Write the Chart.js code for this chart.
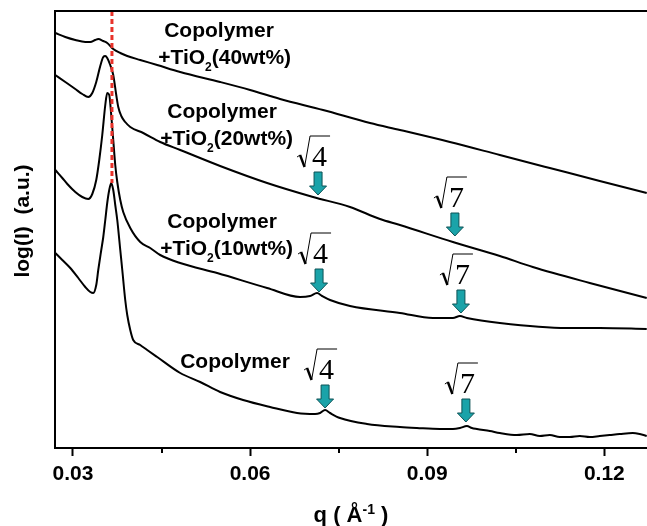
<!DOCTYPE html>
<html>
<head>
<meta charset="utf-8">
<script src="https://cdn.jsdelivr.net/npm/chart.js@4.4.0/dist/chart.umd.min.js"></script>
<style>
  html, body { margin: 0; padding: 0; background: #fff; }
  #marco { width: 647px; height: 526px; position: relative; }
</style>
</head>
<body>
<div id="marco"><canvas id="graficoSaxs"></canvas></div>
<script>
// q en 1/Å, intensidad en unidades arbitrarias (curvas desplazadas)
const q40 = [0.02700, 0.02870, 0.03039, 0.03208, 0.03293, 0.03377, 0.03428, 0.03513, 0.03580, 0.03682, 0.03801, 0.03919, 0.04139, 0.04426, 0.04816, 0.05492, 0.06000, 0.06508, 0.07236, 0.08031, 0.08538, 0.09384, 0.10230, 0.11076, 0.11922, 0.12718];
const i40 = [415, 411, 408, 406, 406, 408, 409, 407, 405, 399, 395, 392, 388, 383, 376, 366, 358, 349, 338, 325, 318, 306, 293, 280, 267, 255];

const q20 = [0.02700, 0.02870, 0.03039, 0.03157, 0.03259, 0.03327, 0.03394, 0.03462, 0.03513, 0.03547, 0.03580, 0.03631, 0.03682, 0.03733, 0.03767, 0.03818, 0.03885, 0.03970, 0.04190, 0.04477, 0.04816, 0.05492, 0.06288, 0.07066, 0.07692, 0.08200, 0.08538, 0.09435, 0.10230, 0.10788, 0.11753, 0.12718];
const i20 = [373, 366, 359, 354, 351, 355, 366, 382, 391, 392, 390, 383, 373, 353, 341, 332, 326, 321, 315, 306, 298, 282, 265, 251, 241, 229, 223, 206, 192, 181, 165, 150];

const q10 = [0.02700, 0.02819, 0.02904, 0.03039, 0.03157, 0.03259, 0.03327, 0.03394, 0.03445, 0.03496, 0.03547, 0.03580, 0.03614, 0.03648, 0.03682, 0.03716, 0.03750, 0.03801, 0.03851, 0.03970, 0.04139, 0.04308, 0.04477, 0.04816, 0.05442, 0.06288, 0.06846, 0.07015, 0.07134, 0.07219, 0.07354, 0.07692, 0.08538, 0.09097, 0.09435, 0.09554, 0.09672, 0.10230, 0.11364, 0.11922, 0.12718];
const i10 = [278, 270, 264, 256, 251, 249, 254, 268, 288, 313, 343, 355, 353, 333, 308, 283, 266, 248, 236, 220, 206, 200, 193, 185, 175, 160, 151, 152, 155, 152, 148, 142, 135, 130, 130, 132, 130, 125, 120, 120, 119];

const qCop = [0.02700, 0.02819, 0.02954, 0.03090, 0.03208, 0.03293, 0.03343, 0.03394, 0.03428, 0.03479, 0.03513, 0.03547, 0.03580, 0.03614, 0.03648, 0.03682, 0.03716, 0.03750, 0.03801, 0.03835, 0.03885, 0.03919, 0.03970, 0.04020, 0.04139, 0.04257, 0.04426, 0.04816, 0.05154, 0.05492, 0.05882, 0.06338, 0.06795, 0.07100, 0.07185, 0.07270, 0.07354, 0.07523, 0.07980, 0.08538, 0.08826, 0.09215, 0.09435, 0.09554, 0.09672, 0.09756, 0.09841, 0.10061, 0.10230, 0.10517, 0.10738, 0.10907, 0.11076, 0.11245, 0.11415, 0.11584, 0.11753, 0.11922, 0.12091, 0.12260, 0.12481, 0.12599, 0.12718];
const iCop = [195, 188, 180, 170, 161, 156, 155, 163, 178, 198, 211, 228, 245, 258, 265, 258, 243, 228, 198, 178, 148, 133, 118, 108, 103, 98, 91, 75, 66, 56, 48, 41, 35, 34, 35, 38, 35, 30, 24, 21, 20, 19, 19, 20, 22, 20, 19, 17, 15, 13, 14, 12, 13, 11, 11, 12, 11, 12, 13, 14, 15, 14, 12];

// línea roja en la posición del pico principal
const qPico = [0.0366, 0.0366];
const iPico = [437, 265];

const ticksMayores = [0.03, 0.06, 0.09, 0.12];
const ticksMenores = [0.045, 0.075, 0.105];

// flechas de los picos de orden superior (punta sobre la curva)
const flechaQ = [0.07151, 0.09469, 0.07168, 0.09571, 0.07270, 0.09655];
const flechaI = [253, 212, 156, 135, 40, 26];
const flechaRaiz = ['4', '7', '4', '7', '4', '7'];

const rotulos = [
  { q: 0.04545, i: 411, texto: 'Copolymer' },
  { q: 0.04443, i: 384, texto: '+TiO', sub: '2', resto: '(40wt%)' },
  { q: 0.04596, i: 330, texto: 'Copolymer' },
  { q: 0.04477, i: 303, texto: '+TiO', sub: '2', resto: '(20wt%)' },
  { q: 0.04596, i: 220, texto: 'Copolymer' },
  { q: 0.04477, i: 193, texto: '+TiO', sub: '2', resto: '(10wt%)' },
  { q: 0.04816, i: 80, texto: 'Copolymer' }
];

const SANS = '"Liberation Sans", Arial, sans-serif';

function puntos(xs, ys) {
  return xs.map((x, k) => ({ x: x, y: ys[k] }));
}

function curva(xs, ys) {
  return {
    data: puntos(xs, ys),
    borderColor: '#000',
    borderWidth: 2,
    pointRadius: 0,
    fill: false,
    cubicInterpolationMode: 'monotone'
  };
}

function dibujarRaiz(ctx, L, B, digito) {
  ctx.strokeStyle = '#000';
  ctx.lineCap = 'butt';
  ctx.lineWidth = 1;
  ctx.beginPath();
  ctx.moveTo(L, B - 9);
  ctx.lineTo(L + 3, B - 11);
  ctx.stroke();
  ctx.lineWidth = 2.4;
  ctx.beginPath();
  ctx.moveTo(L + 3, B - 11);
  ctx.lineTo(L + 7.5, B + 1);
  ctx.stroke();
  ctx.lineWidth = 1;
  ctx.beginPath();
  ctx.moveTo(L + 7.5, B + 1);
  ctx.lineTo(L + 13, B - 30);
  ctx.lineTo(L + 33, B - 30);
  ctx.stroke();
  ctx.fillStyle = '#000';
  ctx.font = '30px "Liberation Serif", "Times New Roman", serif';
  ctx.textAlign = 'left';
  ctx.textBaseline = 'alphabetic';
  ctx.fillText(digito, L + 15, B);
}

function dibujarFlecha(ctx, cx, punta) {
  ctx.beginPath();
  ctx.moveTo(cx - 4, punta - 23);
  ctx.lineTo(cx + 4, punta - 23);
  ctx.lineTo(cx + 4, punta - 9);
  ctx.lineTo(cx + 8.5, punta - 9);
  ctx.lineTo(cx, punta);
  ctx.lineTo(cx - 8.5, punta - 9);
  ctx.lineTo(cx - 4, punta - 9);
  ctx.closePath();
  ctx.fillStyle = '#1aa3a9';
  ctx.fill();
  ctx.strokeStyle = '#0d5356';
  ctx.lineWidth = 1;
  ctx.stroke();
}

const adornos = {
  id: 'adornos',
  afterDraw(chart) {
    const ctx = chart.ctx;
    const area = chart.chartArea;
    const ex = chart.scales.x;
    const ey = chart.scales.y;
    ctx.save();

    // marco superior e izquierdo
    ctx.strokeStyle = '#000';
    ctx.lineWidth = 2;
    ctx.beginPath();
    ctx.moveTo(area.left, area.bottom);
    ctx.lineTo(area.left, area.top);
    ctx.lineTo(area.right, area.top);
    ctx.stroke();

    // ticks menores
    ticksMenores.forEach(v => {
      const px = Math.round(ex.getPixelForValue(v));
      ctx.beginPath();
      ctx.moveTo(px, area.bottom);
      ctx.lineTo(px, area.bottom + 5);
      ctx.stroke();
    });

    // nombres de las muestras
    ctx.fillStyle = '#000';
    ctx.textAlign = 'left';
    ctx.textBaseline = 'alphabetic';
    rotulos.forEach(r => {
      let x = ex.getPixelForValue(r.q);
      const y = ey.getPixelForValue(r.i);
      ctx.font = 'bold 21px ' + SANS;
      ctx.fillText(r.texto, x, y);
      if (r.sub) {
        x += ctx.measureText(r.texto).width;
        ctx.font = 'bold 12px ' + SANS;
        ctx.fillText(r.sub, x, y + 7);
        x += ctx.measureText(r.sub).width;
        ctx.font = 'bold 21px ' + SANS;
        ctx.fillText(r.resto, x, y);
      }
    });

    // flechas y raíces
    flechaQ.forEach((q, k) => {
      const cx = ex.getPixelForValue(q);
      const punta = ey.getPixelForValue(flechaI[k]);
      dibujarFlecha(ctx, cx, punta);
      dibujarRaiz(ctx, cx - 21, punta - 29, flechaRaiz[k]);
    });

    // título eje x: q ( Å^-1 )
    ctx.fillStyle = '#000';
    ctx.textBaseline = 'alphabetic';
    const partes = [['q ( Å', 22, 0], ['-1', 14, -8], [' )', 22, 0]];
    let ancho = 0;
    partes.forEach(p => { ctx.font = 'bold ' + p[1] + 'px ' + SANS; ancho += ctx.measureText(p[0]).width; });
    let xt = (area.left + area.right) / 2 - ancho / 2;
    partes.forEach(p => {
      ctx.font = 'bold ' + p[1] + 'px ' + SANS;
      ctx.fillText(p[0], xt, 522 + p[2]);
      xt += ctx.measureText(p[0]).width;
    });

    // título eje y
    ctx.translate(23, 221);
    ctx.rotate(-Math.PI / 2);
    ctx.textAlign = 'center';
    ctx.textBaseline = 'middle';
    ctx.font = 'bold 21px ' + SANS;
    ctx.fillText('log(I)  (a.u.)', 0, 0);
    ctx.restore();
  }
};

const ctx = document.getElementById('graficoSaxs').getContext('2d');
const graficoSaxs = new Chart(ctx, {
  type: 'line',
  data: {
    datasets: [
      {
        data: puntos(qPico, iPico),
        borderColor: '#e8322a',
        borderWidth: 3,
        borderDash: [5, 3],
        pointRadius: 0,
        fill: false,
        tension: 0
      },
      curva(q40, i40),
      curva(q20, i20),
      curva(q10, i10),
      curva(qCop, iCop)
    ]
  },
  options: {
    responsive: true,
    maintainAspectRatio: false,
    animation: false,
    devicePixelRatio: 1,
    layout: { padding: { left: 55, top: 11, right: 0, bottom: 0 } },
    plugins: {
      legend: { display: false },
      tooltip: { enabled: false }
    },
    scales: {
      x: {
        type: 'linear',
        min: 0.026954,
        max: 0.127225,
        afterBuildTicks: (eje) => { eje.ticks = ticksMayores.map(v => ({ value: v })); },
        afterFit: (eje) => { eje.height = 78; },
        grid: { drawOnChartArea: false, drawTicks: true, tickLength: 8, tickWidth: 2, tickColor: '#000' },
        border: { display: true, color: '#000', width: 2 },
        ticks: {
          color: '#000',
          padding: 6,
          maxRotation: 0,
          autoSkip: false,
          font: { family: SANS, size: 21, weight: 'bold' },
          callback: (v) => v.toFixed(2)
        },
        title: { display: false }
      },
      y: {
        display: false,
        min: 0,
        max: 437
      }
    }
  },
  plugins: [adornos]
});
</script>
</body>
</html>
